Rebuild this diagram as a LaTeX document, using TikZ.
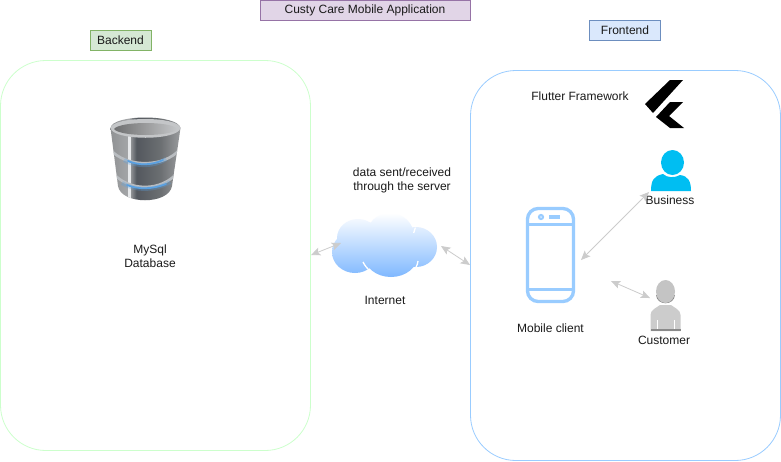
\documentclass[tikz,border=0pt]{standalone}
\usepackage{fontspec}
\setmainfont{Liberation Sans}
\usetikzlibrary{arrows.meta}
\definecolor{grn}{HTML}{D5E8D4}
\definecolor{grnb}{HTML}{82B366}
\definecolor{blu}{HTML}{DAE8FC}
\definecolor{blub}{HTML}{6C8EBF}
\definecolor{pur}{HTML}{E1D5E7}
\definecolor{purb}{HTML}{9673A6}
\definecolor{phone}{HTML}{99CCFF}
\definecolor{panelg}{HTML}{CCFFCC}
\definecolor{lnk}{HTML}{CCCCCC}
\definecolor{cyanp}{HTML}{00BEF2}
\definecolor{txt}{HTML}{1A1A1A}
\definecolor{cloudb}{HTML}{7FB8FF}
\definecolor{persl}{HTML}{CCCCCC}
\definecolor{persh}{HTML}{C4C4C4}
\definecolor{persd}{HTML}{8A8A8A}
\definecolor{ringc}{HTML}{B9BDC1}
\definecolor{glow}{HTML}{5AA0E0}
\definecolor{dbA}{HTML}{8E9092}
\definecolor{dbB}{HTML}{A4A6A8}
\definecolor{dbC}{HTML}{53585E}
\definecolor{dbD}{HTML}{6C6F72}
\definecolor{dbE}{HTML}{A0A2A4}
\definecolor{dbF}{HTML}{6E6F70}
\definecolor{dbG}{HTML}{9A9B9C}
\definecolor{dbH}{HTML}{C4C6C8}
\definecolor{dbW}{HTML}{E6E8EA}
\pgfdeclarehorizontalshading{dbbody}{100bp}{
  color(0bp)=(dbA);color(25bp)=(dbA);color(39bp)=(dbB);color(44bp)=(dbC);color(60bp)=(dbD);color(75bp)=(dbE);color(100bp)=(dbE)}
\pgfdeclarehorizontalshading{dbtop}{100bp}{
  color(0bp)=(dbF);color(25bp)=(dbF);color(50bp)=(dbG);color(75bp)=(dbH);color(100bp)=(dbH)}
\tikzset{
  lbl/.style={font=\fontsize{9}{10.2}\selectfont,text=txt,align=center,inner sep=0pt},
  tagbox/.style={draw=#1,line width=0.75pt,font=\fontsize{9}{10.8}\selectfont,text=txt,inner sep=0pt,anchor=center},
  panel/.style={draw=#1,line width=0.6pt,rounded corners=34pt,fill=white},
  link/.style={draw=lnk,line width=0.6pt,{Stealth[length=7pt,width=6pt,inset=1.5pt]}-{Stealth[length=7pt,width=6pt,inset=1.5pt]}}
}
\begin{document}
\begin{tikzpicture}[x=0.75pt,y=-0.75pt]
\useasboundingbox (0,0) rectangle (781,461);
\fill[white] (0,0) rectangle (781,461);
% panels
\draw[panel=panelg] (0.5,60.5) rectangle (310.5,450.5);
\draw[panel=phone] (470.5,70.5) rectangle (780.5,460.5);
% tags
\node[tagbox=purb,fill=pur,minimum width=157.5pt,minimum height=15pt] (title) at (365,10) {Custy Care Mobile Application};
\node[tagbox=grnb,fill=grn,minimum width=45.75pt,minimum height=15pt] (backend) at (120.5,40) {Backend};
\node[tagbox=blub,fill=blu,minimum width=53pt,minimum height=15pt] (frontend) at (625,30.5) {Frontend};
% database
\begin{scope}
  \clip (110.5,128) -- (118,186) .. controls (121,205) and (169,205) .. (172,186) -- (180.5,128) .. controls (178,114) and (112,114) .. (110.5,128) -- cycle;
  \shade[shading=dbbody] (108,115) rectangle (183,200);
  \fill[dbW] (127.5,134) rectangle (131,200);
  \draw[ringc,line width=2pt] (110,149) .. controls (125,168) and (165,168) .. (180,149);
  \draw[ringc,line width=2pt] (112,172) .. controls (128,192) and (162,192) .. (178,172);
  \draw[glow,opacity=.3,line width=3pt] (124,160) .. controls (135,167) and (155,167) .. (166,159);
  \draw[glow,line width=1.3pt,line cap=round] (128,161) .. controls (138,165.5) and (152,165.5) .. (163,160);
  \draw[glow,opacity=.3,line width=3pt] (122,183) .. controls (135,191) and (155,191) .. (170,182);
  \draw[glow,line width=1.3pt,line cap=round] (127,185) .. controls (138,189.5) and (152,189.5) .. (166,184);
\end{scope}
\fill[dbH] (110.5,128) .. controls (113,116) and (178,116) .. (180.5,128) .. controls (178,141) and (113,141) .. (110.5,128) -- cycle;
\shade[shading=dbtop] (114,129) .. controls (120,121) and (172,121) .. (177,129) .. controls (172,137) and (120,137) .. (114,129) -- cycle;
\node[lbl] (dbl) at (150,256.5) {MySql\\Database};
% cloud
\begin{scope}
  \clip (358,238) ellipse (21 and 19) (390,236) ellipse (24 and 23) (416,247) ellipse (21 and 20) (391,255) ellipse (27 and 22) (355,252) ellipse (23 and 21) (385,245) ellipse (30 and 20);
  \shade[top color=white,bottom color=cloudb] (325,213) rectangle (442,277);
\end{scope}
\draw[white,line width=1pt] (363,262) .. controls (365,266) and (367,268) .. (370,271);
\draw[white,line width=1pt] (415.5,227.5) .. controls (415,229) and (414,231) .. (413.7,233);
\draw[white,line width=1pt] (418,261) .. controls (418,263) and (417,265) .. (415.7,268);
\draw[white,line width=1pt] (369.5,219) -- (372,221);
\node[lbl] (cloudl) at (385,300.5) {Internet};
\node[lbl] (net) at (402,180.5) {data sent/received\\through the server};
% flutter text and logo
\node[lbl] (ff) at (580,96.5) {Flutter Framework};
\fill[black] (645,104) -- (670,80) -- (683,80) -- (653,113) -- cycle;
\fill[black] (656,117) -- (670,102) -- (683,102) -- (669,116) -- (684,128) -- (670,128) -- cycle;
% phone
\draw[phone,line width=2.5pt,rounded corners=8pt] (527.5,208.5) rectangle (573.5,301.5);
\draw[phone,line width=2.5pt] (527,224.5) -- (574,224.5) (527,289.5) -- (574,289.5);
\draw[phone,line width=1.6pt] (541,217) circle (2);
\fill[phone] (549,215) rectangle (560,219);
\node[lbl] (mc) at (550.5,328.5) {Mobile client};
% business
\fill[cyanp] (672.5,162.5) ellipse (11.5 and 12.5);
\fill[cyanp] (651,191) .. controls (651,180) and (654,176) .. (663,174) .. controls (667,178) and (675,178) .. (680,175) .. controls (688,176) and (691,181) .. (691,191) -- cycle;
\node[lbl] (bus) at (670,200.5) {Business};
% customer
\fill[persd] (656,295) .. controls (657,306) and (674,306) .. (675,295) -- cycle;
\fill[persh] (665.5,291.5) ellipse (9.5 and 11.5);
\fill[persl] (650.5,331) -- (650.5,315) .. controls (650.5,310) and (656,308) .. (660,305) -- (671,305) .. controls (675,308) and (680.5,310) .. (680.5,315) -- (680.5,331) -- cycle;
\fill[persd] (650.5,329) rectangle (680.5,331);
\draw[white,line width=.4pt] (657,320) -- (657,329) (674,320) -- (674,329);
\node[lbl] (cus) at (664,340.5) {Customer};
% connector ends
\coordinate (a1) at (311,255);
\coordinate (a2) at (341,243);
\coordinate (b1) at (441,246);
\coordinate (b2) at (470,265);
\coordinate (c1) at (581,260);
\coordinate (c2) at (649,192);
\coordinate (d1) at (611,281);
\coordinate (d2) at (650,298);
\draw[link] (a1) -- (a2);
\draw[link] (b1) -- (b2);
\draw[link] (c1) -- (c2);
\draw[link] (d1) -- (d2);
\end{tikzpicture}
\end{document}
